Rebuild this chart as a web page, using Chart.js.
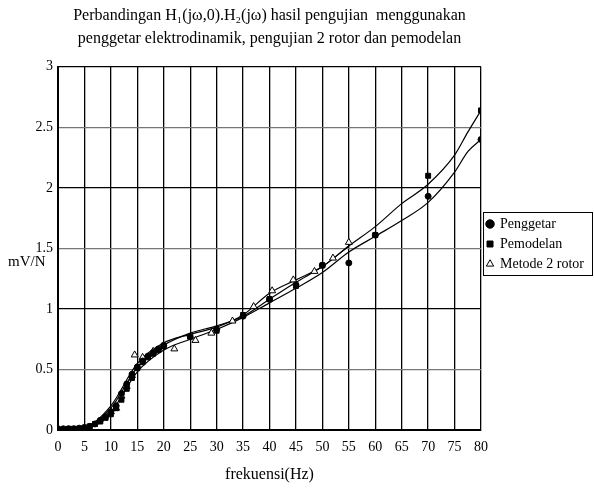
<!DOCTYPE html>
<html>
<head>
<meta charset="utf-8">
<script src="https://cdn.jsdelivr.net/npm/chart.js@4"></script>
<style>
  html, body { margin: 0; padding: 0; background: #fff; }
  #wrap { width: 594px; height: 489px; }
</style>
</head>
<body>
<div id="wrap"><canvas id="chart" width="594" height="489"></canvas></div>
<script>
// measured points (Hz, mV/N)
const freqPenggetar = [0, 1, 2, 3, 4, 5, 6, 7, 8, 9, 10, 11, 12, 13, 14, 15, 16, 17, 18, 19, 20, 25, 30, 35, 40, 45, 50, 55, 60, 70, 80];
const valPenggetar = [0.01, 0.01, 0.01, 0.01, 0.015, 0.02, 0.03, 0.05, 0.08, 0.11, 0.15, 0.2, 0.3, 0.38, 0.46, 0.52, 0.57, 0.61, 0.64, 0.67, 0.7, 0.77, 0.83, 0.94, 1.08, 1.2, 1.36, 1.38, 1.61, 1.93, 2.40];

const freqPemodelan = [0, 1, 2, 3, 4, 5, 6, 7, 8, 9, 10, 11, 12, 13, 14, 15, 16, 17, 18, 19, 20, 25, 30, 35, 40, 45, 50, 60, 70, 80];
const valPemodelan = [0.0, 0.0, 0.01, 0.01, 0.01, 0.02, 0.03, 0.05, 0.07, 0.1, 0.13, 0.18, 0.25, 0.34, 0.43, 0.51, 0.56, 0.6, 0.63, 0.66, 0.69, 0.77, 0.82, 0.95, 1.08, 1.19, 1.36, 1.61, 2.10, 2.64];

const freqRotor = [10, 11, 12, 13, 14, 14.5, 16, 18, 22, 26, 29, 33, 37, 40.5, 44.5, 48.5, 52, 55];
const valRotor = [0.15, 0.18, 0.28, 0.36, 0.45, 0.62, 0.6, 0.65, 0.67, 0.74, 0.8, 0.9, 1.02, 1.15, 1.24, 1.31, 1.42, 1.55];

// fitted curves
const fitFreq = [0, 5, 10, 15, 20, 25, 30, 35, 40, 45, 50, 55, 60, 65, 70, 75, 77.5, 80];
const fitPemodelan = [0, 0.02, 0.18, 0.52, 0.7, 0.8, 0.86, 0.94, 1.08, 1.22, 1.35, 1.52, 1.68, 1.87, 2.03, 2.27, 2.46, 2.64];
const fitPenggetar = [0, 0.02, 0.15, 0.48, 0.66, 0.75, 0.83, 0.93, 1.05, 1.17, 1.3, 1.47, 1.6, 1.73, 1.88, 2.13, 2.3, 2.40];
const fitRotorFreq = [0, 5, 10, 15, 20, 25, 30, 35, 40, 45, 50, 55];
const fitRotor = [0, 0.02, 0.2, 0.55, 0.72, 0.79, 0.85, 0.95, 1.13, 1.24, 1.35, 1.52];

const xTicks = [0, 5, 10, 15, 20, 25, 30, 35, 40, 45, 50, 55, 60, 65, 70, 75, 80];
const yTicks = [0, 0.5, 1, 1.5, 2, 2.5, 3];

const FONT = "'Liberation Serif', 'Times New Roman', serif";

function pts(xs, ys) {
    return xs.map((x, i) => ({ x: x, y: ys[i] }));
}

function markerSet(label, xs, ys, style, fill, r) {
    return {
        label: label,
        data: pts(xs, ys),
        showLine: false,
        pointStyle: style,
        pointRadius: r,
        pointBackgroundColor: fill,
        pointBorderColor: '#000',
        pointBorderWidth: 1,
        backgroundColor: fill,
        borderColor: '#000'
    };
}

function curveSet(xs, ys) {
    return {
        label: '_fit',
        data: pts(xs, ys),
        showLine: true,
        pointRadius: 0,
        borderColor: '#000',
        borderWidth: 1.2,
        cubicInterpolationMode: 'monotone'
    };
}

const sideText = {
    id: 'sideText',
    afterDraw(chart) {
        const ctx = chart.ctx;
        ctx.save();
        ctx.fillStyle = '#000';
        ctx.font = '15px ' + FONT;
        ctx.textBaseline = 'middle';
        ctx.textAlign = 'left';
        ctx.fillText('mV/N', 8, 262);
        // frame round the legend items
        const boxes = chart.legend.legendHitBoxes || [];
        if (boxes.length) {
            const top = Math.min(...boxes.map(b => b.top)) - 5;
            const bottom = Math.max(...boxes.map(b => b.top + b.height)) + 4;
            const left = chart.legend.left + 2;
            ctx.strokeStyle = '#000';
            ctx.lineWidth = 1;
            ctx.strokeRect(left + 0.5, Math.round(top) + 0.5, chart.width - left - 2, Math.round(bottom - top));
        }
        ctx.restore();
    }
};

new Chart(document.getElementById('chart'), {
    type: 'scatter',
    data: {
        datasets: [
            markerSet('Penggetar', freqPenggetar, valPenggetar, 'circle', '#000', 3),
            markerSet('Pemodelan', freqPemodelan, valPemodelan, 'rect', '#000', 3.5),
            markerSet('Metode 2 rotor', freqRotor, valRotor, 'triangle', '#fff', 4),
            curveSet(fitFreq, fitPemodelan),
            curveSet(fitFreq, fitPenggetar),
            curveSet(fitRotorFreq, fitRotor)
        ]
    },
    options: {
        responsive: false,
        animation: false,
        layout: { padding: { left: 0, right: 0, top: 4, bottom: 5 } },
        plugins: {
            title: {
                display: true,
                fullSize: false,
                text: ['Perbandingan H\u2081(j\u03c9,0).H\u2082(j\u03c9) hasil pengujian  menggunakan', 'penggetar elektrodinamik, pengujian 2 rotor dan pemodelan'],
                color: '#000',
                font: { family: FONT, size: 16, weight: 'normal', lineHeight: 1.4 },
                padding: { top: 1, bottom: 17 }
            },
            legend: {
                position: 'right',
                labels: {
                    color: '#000',
                    font: { family: FONT, size: 14 },
                    usePointStyle: true,
                    boxWidth: 6,
                    boxHeight: 6,
                    padding: 6,
                    filter: item => item.text !== '_fit'
                }
            },
            tooltip: { enabled: false }
        },
        scales: {
            x: {
                type: 'linear',
                min: 0,
                max: 80,
                afterBuildTicks: s => { s.ticks = xTicks.map(v => ({ value: v })); },
                ticks: { color: '#000', font: { family: FONT, size: 14 }, padding: 9 },
                grid: { color: '#000', lineWidth: 1.3, drawTicks: false },
                border: { color: '#000', width: 2 },
                title: { display: true, text: 'frekuensi(Hz)', color: '#000', font: { family: FONT, size: 16 }, padding: { top: 0, bottom: 0 } }
            },
            y: {
                min: 0,
                max: 3,
                afterBuildTicks: s => { s.ticks = yTicks.map(v => ({ value: v })); },
                afterFit: s => { s.width = 58; },
                ticks: { color: '#000', font: { family: FONT, size: 14 }, padding: 5, callback: v => String(v) },
                grid: {
                    color: c => (c.tick && Number.isInteger(c.tick.value)) ? '#000' : '#777',
                    lineWidth: 1.3,
                    drawTicks: false
                },
                border: { color: '#000', width: 2 }
            }
        }
    },
    plugins: [sideText]
});
</script>
</body>
</html>
